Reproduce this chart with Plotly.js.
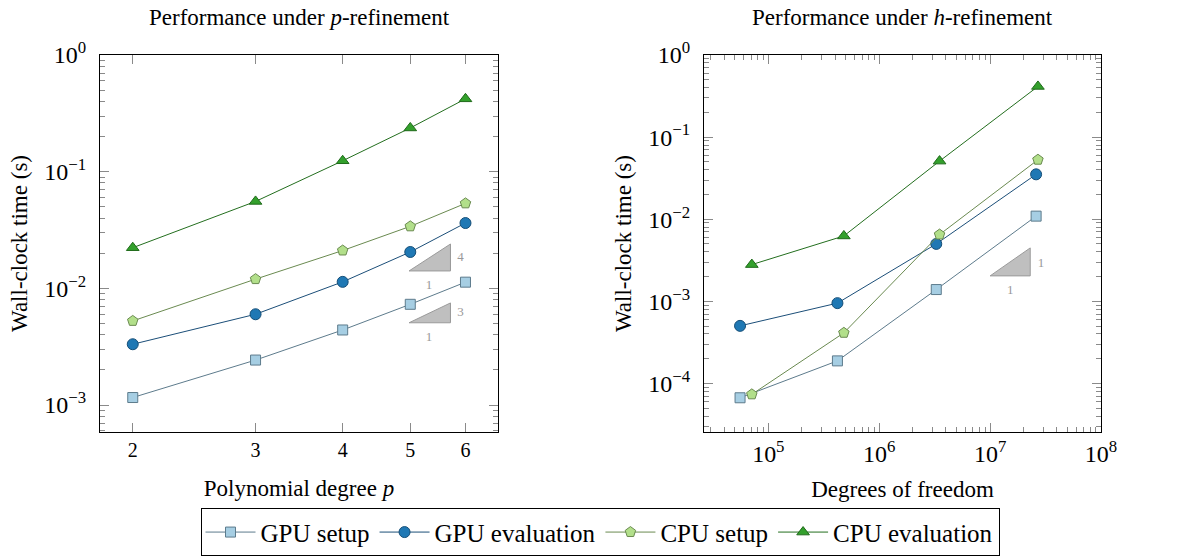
<!DOCTYPE html>
<html>
<head>
<meta charset="utf-8">
<script src="https://cdn.plot.ly/plotly-3.0.1.min.js"></script>
<style>html,body{margin:0;padding:0;background:#fff;}#chart{width:1200px;height:558px;}</style>
</head>
<body>
<div id="chart"></div>
<script>
// ---- Data: p-refinement (left) ----
const degrees = [2, 3, 4, 5, 6];
const pGpuSetup = [0.00116, 0.00243, 0.0044, 0.0073, 0.0113];
const pGpuEval  = [0.00332, 0.0060, 0.01137, 0.0205, 0.0363];
const pCpuSetup = [0.00526, 0.0120, 0.0211, 0.0340, 0.0535];
const pCpuEval  = [0.0223, 0.0556, 0.124, 0.237, 0.421];

// ---- Data: h-refinement (right) ----
const dofsGpu = [5.56e4, 4.2e5, 3.27e6, 2.6e7];
const dofsCpu = [7.1e4, 4.8e5, 3.5e6, 2.7e7];
const hGpuSetup = [6.68e-5, 1.88e-4, 0.00139, 0.0109];
const hGpuEval  = [5.02e-4, 9.5e-4, 0.0050, 0.0352];
const hCpuSetup = [7.35e-5, 4.13e-4, 0.0065, 0.053];
const hCpuEval  = [0.0028, 0.00625, 0.051, 0.414];

// ---- Tick labels ----
const yTickValsLeft = [1, 0.1, 0.01, 0.001];
const yTickTextLeft = ['10<sup>0</sup>', '10<sup>−1</sup>', '10<sup>−2</sup>', '10<sup>−3</sup>'];
const yTickValsRight = [1, 0.1, 0.01, 0.001, 0.0001];
const yTickTextRight = ['10<sup>0</sup>', '10<sup>−1</sup>', '10<sup>−2</sup>', '10<sup>−3</sup>', '10<sup>−4</sup>'];
const xTickValsRight = [1e5, 1e6, 1e7, 1e8];
const xTickTextRight = ['10<sup>5</sup>', '10<sup>6</sup>', '10<sup>7</sup>', '10<sup>8</sup>'];

// ---- Slope triangles ----
const slope4X = [4.98, 5.71, 5.71, 4.98];
const slope4Y = [0.0141, 0.0141, 0.0240, 0.0141];
const slope3X = [4.98, 5.71, 5.71, 4.98];
const slope3Y = [0.00507, 0.00507, 0.0075, 0.00507];
const slopeHX = [1.0e7, 2.3e7, 2.3e7, 1.0e7];
const slopeHY = [2.04e-3, 2.04e-3, 4.47e-3, 2.04e-3];
const slopeLabelsLeftX = [5.90, 5.32, 5.90, 5.32];
const slopeLabelsLeftY = [0.0182, 0.01047, 0.00615, 0.00377];
const slopeLabelsLeftT = ['4', '1', '3', '1'];
const slopeLabelsRightX = [2.88e7, 1.52e7];
const slopeLabelsRightY = [2.88e-3, 1.34e-3];
const slopeLabelsRightT = ['1', '1'];

const seriesNames = ['GPU setup', 'GPU evaluation', 'CPU setup', 'CPU evaluation'];
const styles = [
  {symbol: 'square', fill: '#a6cee3', edge: '#5d7b8c', line: '#5d7b8c', size: 10},
  {symbol: 'circle', fill: '#1f78b4', edge: '#164f78', line: '#1b4e78', size: 11},
  {symbol: 'pentagon', fill: '#b2df8a', edge: '#6a8a50', line: '#6a8a50', size: 11},
  {symbol: 'triangle-up', fill: '#33a02c', edge: '#1f6a1a', line: '#236e1e', size: 11}
];

const SERIF = '"Liberation Serif", "Times New Roman", Times, serif';

function series(i, x, y, xa, ya, show) {
  const s = styles[i];
  return {
    type: 'scatter', mode: 'lines+markers', name: seriesNames[i],
    x: x, y: y, xaxis: xa, yaxis: ya, showlegend: show, legendgroup: 'g' + i,
    line: {color: s.line, width: 1},
    marker: {symbol: s.symbol, size: s.size, color: s.fill, line: {color: s.edge, width: 1}},
    cliponaxis: false
  };
}
function tri(x, y, xa, ya) {
  return {type: 'scatter', mode: 'lines', x: x, y: y, xaxis: xa, yaxis: ya, fill: 'toself',
    fillcolor: '#bfbfbf', line: {color: '#9a9a9a', width: 1}, showlegend: false, hoverinfo: 'skip'};
}
function labels(x, y, t, xa, ya) {
  return {type: 'scatter', mode: 'text', x: x, y: y, text: t, xaxis: xa, yaxis: ya,
    textfont: {family: SERIF, size: 13, color: '#999999'}, showlegend: false, hoverinfo: 'skip'};
}

const traces = [
  tri(slope4X, slope4Y, 'x', 'y'),
  tri(slope3X, slope3Y, 'x', 'y'),
  labels(slopeLabelsLeftX, slopeLabelsLeftY, slopeLabelsLeftT, 'x', 'y'),
  tri(slopeHX, slopeHY, 'x2', 'y2'),
  labels(slopeLabelsRightX, slopeLabelsRightY, slopeLabelsRightT, 'x2', 'y2'),
  series(0, degrees, pGpuSetup, 'x', 'y', true),
  series(1, degrees, pGpuEval, 'x', 'y', true),
  series(2, degrees, pCpuSetup, 'x', 'y', true),
  series(3, degrees, pCpuEval, 'x', 'y', true),
  series(0, dofsGpu, hGpuSetup, 'x2', 'y2', false),
  series(1, dofsGpu, hGpuEval, 'x2', 'y2', false),
  series(2, dofsCpu, hCpuSetup, 'x2', 'y2', false),
  series(3, dofsCpu, hCpuEval, 'x2', 'y2', false)
];

const tickFont = {family: SERIF, size: 24, color: 'black'};
const titleFont = {family: SERIF, size: 23, color: 'black'};
const minorTicks = {ticks: 'inside', ticklen: 5, tickcolor: '#8a8a8a', dtick: 'D1', showgrid: false};
const common = {
  showline: true, linecolor: 'black', linewidth: 1, mirror: 'allticks',
  ticks: 'inside', ticklen: 9, tickcolor: '#8a8a8a', tickwidth: 1,
  showgrid: false, zeroline: false, tickfont: tickFont
};

const layout = {
  width: 1200, height: 558,
  margin: {l: 0, r: 0, t: 0, b: 0},
  paper_bgcolor: 'white', plot_bgcolor: 'white',
  font: {family: SERIF, size: 22, color: 'black'},
  xaxis: Object.assign({}, common, {
    domain: [100/1200, 498/1200], type: 'log',
    range: [Math.log10(1.795), Math.log10(6.68)],
    tickmode: 'array', tickvals: degrees, ticktext: degrees.map(String), ticklabelstandoff: 0,
    tickfont: {family: SERIF, size: 20, color: 'black'},
    title: {text: 'Polynomial degree <i>p</i>', font: titleFont, standoff: 19}
  }),
  yaxis: Object.assign({}, common, {
    type: 'log', tickmode: 'array', tickvals: yTickValsLeft, ticktext: yTickTextLeft, minor: minorTicks,
    domain: [126/558, 503/558], range: [-3.231, 0], anchor: 'x', ticklabelstandoff: 8,
    title: {text: 'Wall-clock time (s)', font: titleFont, standoff: 10}
  }),
  xaxis2: Object.assign({}, common, {
    domain: [704/1200, 1101/1200], type: 'log', anchor: 'y2',
    range: [4.42, 8.0], tickmode: 'array', tickvals: xTickValsRight, ticktext: xTickTextRight,
    ticklabelstandoff: 0, minor: minorTicks,
    title: {text: 'Degrees of freedom', font: titleFont, standoff: 15}
  }),
  yaxis2: Object.assign({}, common, {
    type: 'log', tickmode: 'array', tickvals: yTickValsRight, ticktext: yTickTextRight, minor: minorTicks,
    domain: [126/558, 503/558], range: [-4.592, 0], anchor: 'x2', ticklabelstandoff: 8,
    title: {text: 'Wall-clock time (s)', font: titleFont, standoff: 10}
  }),
  showlegend: true,
  legend: {
    orientation: 'h', x: 0.5, xanchor: 'center', y: 0.003, yanchor: 'bottom',
    bordercolor: 'black', borderwidth: 1, bgcolor: 'white',
    font: {family: SERIF, size: 25, color: 'black'},
    itemwidth: 50, tracegroupgap: 0
  },
  annotations: [
    {text: 'Performance under <i>p</i>-refinement', xref: 'x domain', x: 0.5, yref: 'paper', y: 1 - 18/558,
     xanchor: 'center', yanchor: 'middle', showarrow: false, font: {family: SERIF, size: 23}},
    {text: 'Performance under <i>h</i>-refinement', xref: 'x2 domain', x: 0.5, yref: 'paper', y: 1 - 18/558,
     xanchor: 'center', yanchor: 'middle', showarrow: false, font: {family: SERIF, size: 23}}
  ]
};

Plotly.newPlot('chart', traces, layout, {staticPlot: true, displayModeBar: false});
</script>
</body>
</html>
